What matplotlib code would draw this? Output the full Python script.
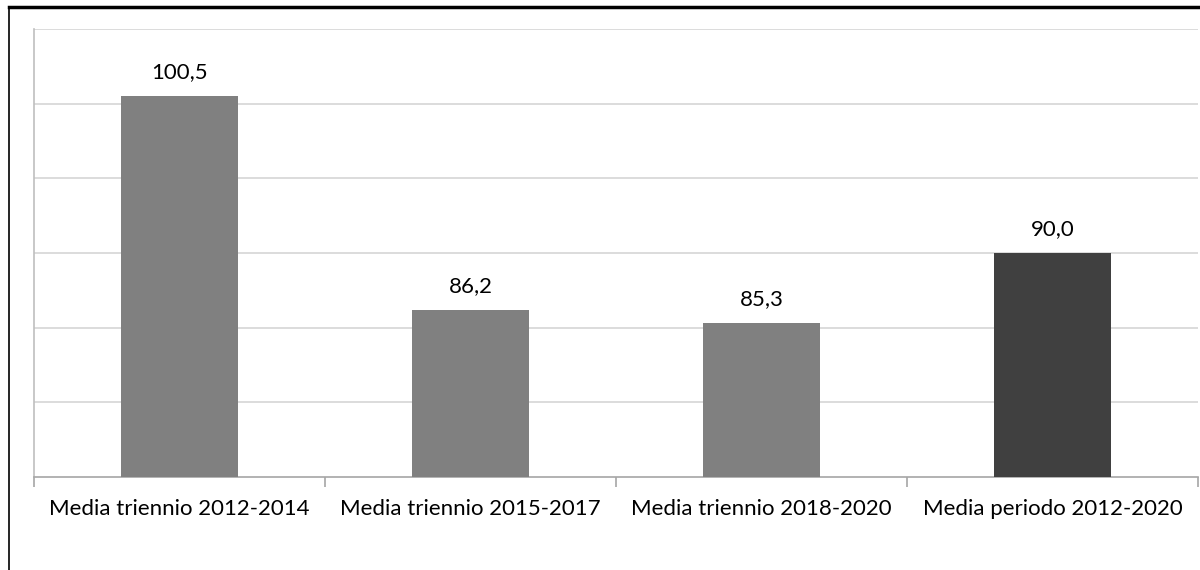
import matplotlib
matplotlib.use("Agg")
import matplotlib.pyplot as plt
from matplotlib.lines import Line2D

# -----------------------------
# Data
# -----------------------------
categories = ["Media triennio 2012-2014", "Media triennio 2015-2017",
              "Media triennio 2018-2020", "Media periodo 2012-2020"]
values = [100.5, 86.2, 85.3, 90.0]
value_labels = ["100,5", "86,2", "85,3", "90,0"]
bar_colors = ["#808080", "#808080", "#808080", "#404040"]

plt.rcParams["font.family"] = ["Lato", "DejaVu Sans"]

fig = plt.figure(figsize=(12, 5.7), dpi=100)
ax = fig.add_axes([34 / 1200, 1 - 477 / 570, 1164 / 1200, 448 / 570])

x = list(range(len(categories)))
ax.bar(x, values, width=0.4, color=bar_colors, zorder=3)

for xi, v, lab in zip(x, values, value_labels):
    ax.annotate(lab, (xi, v), xytext=(0, 10), textcoords="offset points",
                ha="center", va="bottom", fontsize=16, color="#000000")

ax.set_ylim(75, 105)
ax.set_xlim(-0.5, len(categories) - 0.5)
ax.set_yticks([80, 85, 90, 95, 100, 105])
ax.yaxis.grid(True, color="#d9d9d9", linewidth=1.3, zorder=0)
ax.tick_params(axis="y", length=0, labelleft=False)

ax.set_xticks(x)
ax.set_xticklabels(categories, fontsize=16)
ax.tick_params(axis="x", length=0, pad=16)
ax.set_xticks([i - 0.5 for i in range(len(categories) + 1)], minor=True)
ax.tick_params(axis="x", which="minor", length=7, color="#a6a6a6", width=1.2)

for side in ["top", "right"]:
    ax.spines[side].set_visible(False)
ax.spines["left"].set_color("#bfbfbf")
ax.spines["left"].set_linewidth(1.2)
ax.spines["bottom"].set_color("#a6a6a6")
ax.spines["bottom"].set_linewidth(1.2)

# frame lines of the original page
fig.add_artist(Line2D([9 / 1200, 1], [1 - 7 / 570, 1 - 7 / 570],
                      transform=fig.transFigure, color="black", linewidth=2.5))
fig.add_artist(Line2D([9 / 1200, 9 / 1200], [0, 1 - 7 / 570],
                      transform=fig.transFigure, color="black", linewidth=1.2))

fig.savefig("out.png", dpi=100)
